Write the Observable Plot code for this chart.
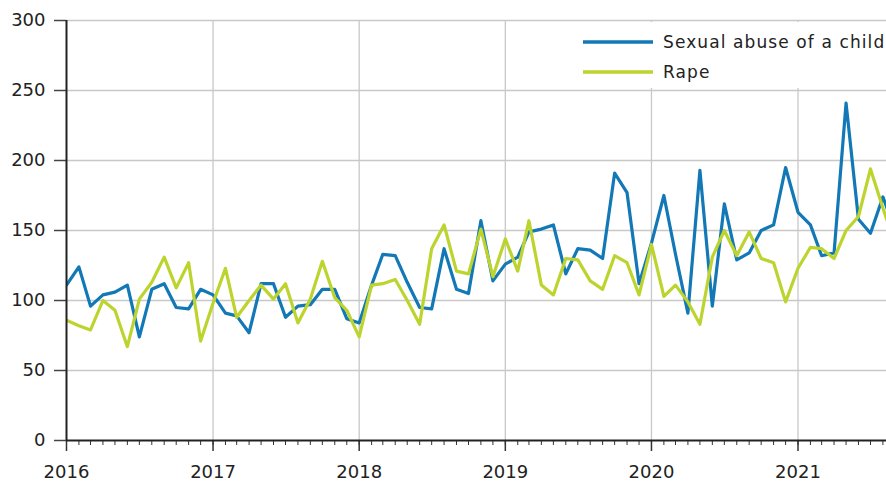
<!DOCTYPE html>
<html>
<head>
<meta charset="utf-8">
<script src="https://cdn.jsdelivr.net/npm/d3@7"></script>
<script src="https://cdn.jsdelivr.net/npm/@observablehq/plot@0.6"></script>
<style>
  html, body { margin: 0; padding: 0; background: #fff; }
  #chart { position: relative; width: 886px; height: 481px; }
</style>
</head>
<body>
<div id="chart"></div>
<script>
// ---- data (monthly, Jan 2016 – Sep 2021) ----
const seriesNames = ["Sexual abuse of a child", "Rape"];
const seriesColors = ["#1278b6", "#bdd42f"];
const childAbuse = [
  111, 124, 96, 104, 106, 111, 74, 108, 112, 95, 94, 108,
  104, 91, 89, 77, 112, 112, 88, 96, 97, 108, 108, 87,
  84, 111, 133, 132, 113, 95, 94, 137, 108, 105, 157, 114,
  126, 131, 149, 151, 154, 119, 137, 136, 130, 191, 177, 112,
  141, 175, 133, 91, 193, 96, 169, 129, 134, 150, 154, 195,
  163, 154, 132, 134, 241, 158, 148, 174, 150
];
const rape = [
  86, 82, 79, 100, 93, 67, 101, 113, 131, 109, 127, 71,
  98, 123, 88, 100, 111, 101, 112, 84, 101, 128, 102, 93,
  74, 111, 112, 115, 100, 83, 137, 154, 121, 119, 151, 117,
  144, 121, 157, 111, 104, 130, 129, 114, 108, 132, 127, 104,
  140, 103, 111, 99, 83, 131, 150, 132, 149, 130, 127, 99,
  123, 138, 137, 130, 150, 160, 194, 166, 140
];
const yTicks = [0, 50, 100, 150, 200, 250, 300];
const yearTicks = [2016, 2017, 2018, 2019, 2020, 2021];

const start = new Date(Date.UTC(2016, 0, 1));
const months = childAbuse.map((_, i) => new Date(Date.UTC(2016, i, 1)));
const rows = [];
[childAbuse, rape].forEach((vals, s) =>
  vals.forEach((v, i) => rows.push({date: months[i], series: seriesNames[s], value: v}))
);
const yearDates = yearTicks.map(y => new Date(Date.UTC(y, 0, 1)));
const monthDates = d3.utcMonth.range(start, new Date(Date.UTC(2021, 8, 1)));

const font = "DejaVu Sans, sans-serif";
const plot = Plot.plot({
  width: 886,
  height: 481,
  marginLeft: 66,
  marginRight: 0,
  marginTop: 20,
  marginBottom: 41,
  style: {fontFamily: font, fontSize: "18px", color: "#222", background: "#fff"},
  x: {type: "utc", domain: [start, new Date(Date.UTC(2021, 7, 10))]},
  y: {domain: [0, 300]},
  color: {domain: seriesNames, range: seriesColors},
  marks: [
    Plot.ruleY(yTicks.slice(1), {stroke: "#c8c8c8", strokeWidth: 1.3}),
    Plot.ruleX(yearDates.slice(1), {y1: 0, y2: 300, stroke: "#c8c8c8", strokeWidth: 1.3}),
    Plot.line(rows.filter(d => d.series === seriesNames[0]), {x: "date", y: "value", stroke: seriesColors[0], strokeWidth: 3.2, clip: true}),
    Plot.line(rows.filter(d => d.series === seriesNames[1]), {x: "date", y: "value", stroke: seriesColors[1], strokeWidth: 3.2, clip: true}),
    Plot.axisY({ticks: yTicks, tickSize: 12, tickPadding: 9, stroke: "#444", strokeWidth: 1.5, fontSize: 18, label: null}),
    Plot.axisX({ticks: monthDates, tickSize: 5, tickFormat: () => "", stroke: "#333", strokeWidth: 1, label: null}),
    Plot.axisX({ticks: yearDates, tickSize: 11, tickPadding: 14, tickFormat: d3.utcFormat("%Y"), stroke: "#333", strokeWidth: 1.5, fontSize: 18, label: null}),
    Plot.ruleY([0], {stroke: "#222", strokeWidth: 2}),
    Plot.ruleX([start], {y1: 0, y2: 300, stroke: "#222", strokeWidth: 2})
  ]
});
document.getElementById("chart").appendChild(plot);

// legend inside the plot area (top right)
const svg = d3.select(plot);
const lg = svg.append("g").attr("font-family", font).attr("font-size", 17)
  .attr("fill", "#222").attr("text-anchor", "start");
lg.append("rect").attr("x", 572).attr("y", 22).attr("width", 314).attr("height", 66).attr("fill", "#fff");
seriesNames.forEach((name, i) => {
  const y = 42 + i * 30;
  lg.append("line").attr("x1", 583).attr("x2", 653).attr("y1", y).attr("y2", y)
    .attr("stroke", seriesColors[i]).attr("stroke-width", 3.5);
  lg.append("text").attr("x", 663).attr("y", y).attr("dy", "0.35em")
    .attr("letter-spacing", "1.1px").text(name);
});
</script>
</body>
</html>
